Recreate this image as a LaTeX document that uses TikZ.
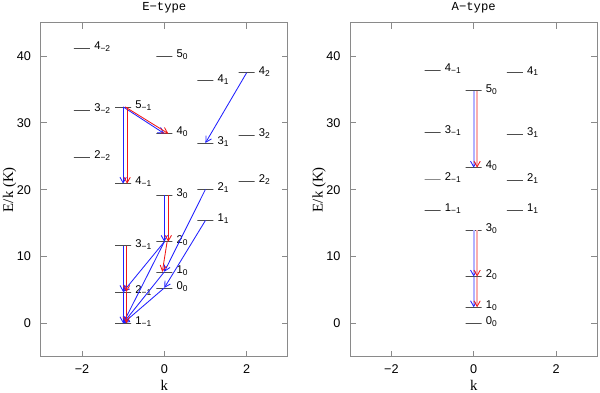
\documentclass[tikz,border=0pt]{standalone}
\usepackage{fontspec}
\setmainfont{Liberation Serif}
\setsansfont{Liberation Sans}
\setmonofont{Liberation Mono}
\usepackage{tikz}
\usetikzlibrary{arrows.meta}
\definecolor{cazul}{HTML}{2020FF}
\definecolor{crojo}{HTML}{F01818}
\definecolor{cgris}{HTML}{8A8A8A}
\definecolor{cnivel}{HTML}{4D4D4D}
\tikzset{
  nivel/.style={rectangle, draw=cnivel, line width=0.5pt, minimum width=0.4cm,
    minimum height=0pt, inner sep=0pt, outer sep=0pt},
  etq/.style={font=\sffamily\fontsize{8}{9}\selectfont, inner sep=0pt,
    anchor=base west, xshift=0.1cm, yshift=-0.9pt},
  eje/.style={draw=cgris, line width=0.6pt},
  numero/.style={font=\sffamily\fontsize{9}{10}\selectfont, inner sep=0pt},
  titulo/.style={font=\ttfamily\fontsize{8.7}{10}\selectfont, inner sep=0pt, anchor=base},
  rotulo/.style={font=\fontsize{10.5}{12}\selectfont, inner sep=0pt},
  flechaa/.style={draw=cazul, line width=0.6pt, -{Straight Barb[length=4pt,width=4.5pt]}},
  flechar/.style={draw=crojo, line width=0.6pt, -{Straight Barb[length=4pt,width=4.5pt]}},
  flechaal/.style={draw=cazul!35, line width=1.2pt,
    -{Straight Barb[length=4pt,width=4.5pt,color=cazul,line width=0.6pt]}},
  flecharl/.style={draw=crojo!35, line width=1.2pt,
    -{Straight Barb[length=4pt,width=4.5pt,color=crojo,line width=0.6pt]}},
}

\begin{document}
\begin{tikzpicture}
  \useasboundingbox (0,0) rectangle (15,9.8);

  % E-type
  \begin{scope}[shift={(4.1075,1.7175)}, x=1.029cm, y=0.167cm]
    \draw[eje] (-3,-5) rectangle (3,45);
    \foreach \kx/\lab in {-2/−2, 0/0, 2/2} {
      \draw[eje] (\kx,-5) -- ++(0,0.15cm);
      \draw[eje] (\kx,45) -- ++(0,-0.15cm);
      \node[numero, anchor=north, yshift=-0.19cm] (ek\kx) at (\kx,-5) {\lab};
    }
    \foreach \ey in {0,10,20,30,40} {
      \draw[eje] (-3,\ey) -- ++(0.15cm,0);
      \draw[eje] (3,\ey) -- ++(-0.15cm,0);
      \node[numero, anchor=east, xshift=-0.24cm] (ee\ey) at (-3,\ey) {\ey};
    }
    \node[titulo, yshift=0.3cm] (etit) at (0,45) {E−type};
    \node[rotulo, anchor=base, yshift=-0.84cm] (ekl) at (0,-5) {k};
    \path (-3,20) ++(-0.78cm,0) node[rotulo, rotate=90] (eel) {E/k (K)};

    \foreach \nm/\kx/\ey/\lab in {
      E4m2/-2/41.2/4\textsubscript{−2}, E50/0/40.0/5\textsubscript{0},
      E4p1/1/36.3/4\textsubscript{1}, E4p2/2/37.5/4\textsubscript{2},
      E3m2/-2/31.9/3\textsubscript{−2}, E5m1/-1/32.4/5\textsubscript{−1},
      E40/0/28.4/4\textsubscript{0}, E3p1/1/27.0/3\textsubscript{1},
      E3p2/2/28.2/3\textsubscript{2}, E2m2/-2/24.9/2\textsubscript{−2},
      E4m1/-1/20.9/4\textsubscript{−1}, E30/0/19.2/3\textsubscript{0},
      E2p1/1/20.05/2\textsubscript{1}, E2p2/2/21.2/2\textsubscript{2},
      E1p1/1/15.4/1\textsubscript{1}, E3m1/-1/11.6/3\textsubscript{−1},
      E20/0/12.2/2\textsubscript{0}, E10/0/7.7/1\textsubscript{0},
      E2m1/-1/4.7/2\textsubscript{−1}, E00/0/5.3/0\textsubscript{0},
      E1m1/-1/0/1\textsubscript{−1}}
      \node[nivel, label={[etq]east:\lab}] (\nm) at (\kx,\ey) {};

    \draw[flechaa] (E5m1.center) -- (E4m1.center);
    \draw[flechaa] (E5m1.center) -- (E40.center);
    \draw[flechaa] (E4p2.center) -- (E3p1.center);
    \draw[flechaa] (E30.center) -- (E20.center);
    \draw[flechaa] (E2p1.center) -- (E10.center);
    \draw[flechaa] (E1p1.center) -- (E00.center);
    \draw[flechaa] (E20.center) -- (E2m1.center);
    \draw[flechaa] (E20.center) -- (E1m1.center);
    \draw[flechaa] (E10.center) -- (E1m1.center);
    \draw[flechaa] (E00.center) -- (E1m1.center);
    \draw[flechaa] (E3m1.center) -- (E2m1.center);
    \draw[flechaa] (E2m1.center) -- (E1m1.center);
    \draw[flechar] ([xshift=0.1cm]E5m1.center) -- ([xshift=0.1cm]E4m1.center);
    \draw[flechar] ([xshift=0.05cm]E5m1.center) -- ([xshift=0.1cm]E40.center);
    \draw[flechar] ([xshift=0.1cm]E30.center) -- ([xshift=0.1cm]E20.center);
    \draw[flechar] ([xshift=0.07cm]E20.center) -- ([xshift=-0.05cm]E10.center);
    \draw[flechar] ([xshift=0.085cm]E3m1.center) -- ([xshift=0.085cm]E2m1.center);
    \draw[flechar] ([xshift=0.085cm]E2m1.center) -- ([xshift=0.085cm]E1m1.center);
  \end{scope}

  % A-type
  \begin{scope}[shift={(11.8425,1.7175)}, x=1.029cm, y=0.167cm]
    \draw[eje] (-3,-5) rectangle (3,45);
    \foreach \kx/\lab in {-2/−2, 0/0, 2/2} {
      \draw[eje] (\kx,-5) -- ++(0,0.15cm);
      \draw[eje] (\kx,45) -- ++(0,-0.15cm);
      \node[numero, anchor=north, yshift=-0.19cm] (ak\kx) at (\kx,-5) {\lab};
    }
    \foreach \ey in {0,10,20,30,40} {
      \draw[eje] (-3,\ey) -- ++(0.15cm,0);
      \draw[eje] (3,\ey) -- ++(-0.15cm,0);
      \node[numero, anchor=east, xshift=-0.24cm] (ae\ey) at (-3,\ey) {\ey};
    }
    \node[titulo, yshift=0.3cm] (atit) at (0,45) {A−type};
    \node[rotulo, anchor=base, yshift=-0.84cm] (akl) at (0,-5) {k};
    \path (-3,20) ++(-0.78cm,0) node[rotulo, rotate=90] (ael) {E/k (K)};

    \foreach \nm/\kx/\ey/\lab in {
      A4m1/-1/37.9/4\textsubscript{−1}, A4p1/1/37.5/4\textsubscript{1},
      A50/0/34.8/5\textsubscript{0}, A3m1/-1/28.6/3\textsubscript{−1},
      A3p1/1/28.3/3\textsubscript{1}, A40/0/23.3/4\textsubscript{0},
      A2m1/-1/21.6/2\textsubscript{−1}, A2p1/1/21.4/2\textsubscript{1},
      A1m1/-1/16.9/1\textsubscript{−1}, A1p1/1/16.9/1\textsubscript{1},
      A30/0/13.9/3\textsubscript{0}, A20/0/7.0/2\textsubscript{0},
      A10/0/2.4/1\textsubscript{0}, A00/0/0/0\textsubscript{0}}
      \node[nivel, label={[etq]east:\lab}] (\nm) at (\kx,\ey) {};

    \draw[flechaal] (A50.center) -- (A40.center);
    \draw[flechaal] (A30.center) -- (A20.center);
    \draw[flechaal] (A20.center) -- (A10.center);
    \draw[flecharl] ([xshift=0.085cm]A50.center) -- ([xshift=0.085cm]A40.center);
    \draw[flecharl] ([xshift=0.085cm]A30.center) -- ([xshift=0.085cm]A20.center);
    \draw[flecharl] ([xshift=0.085cm]A20.center) -- ([xshift=0.085cm]A10.center);
  \end{scope}
\end{tikzpicture}
\end{document}
